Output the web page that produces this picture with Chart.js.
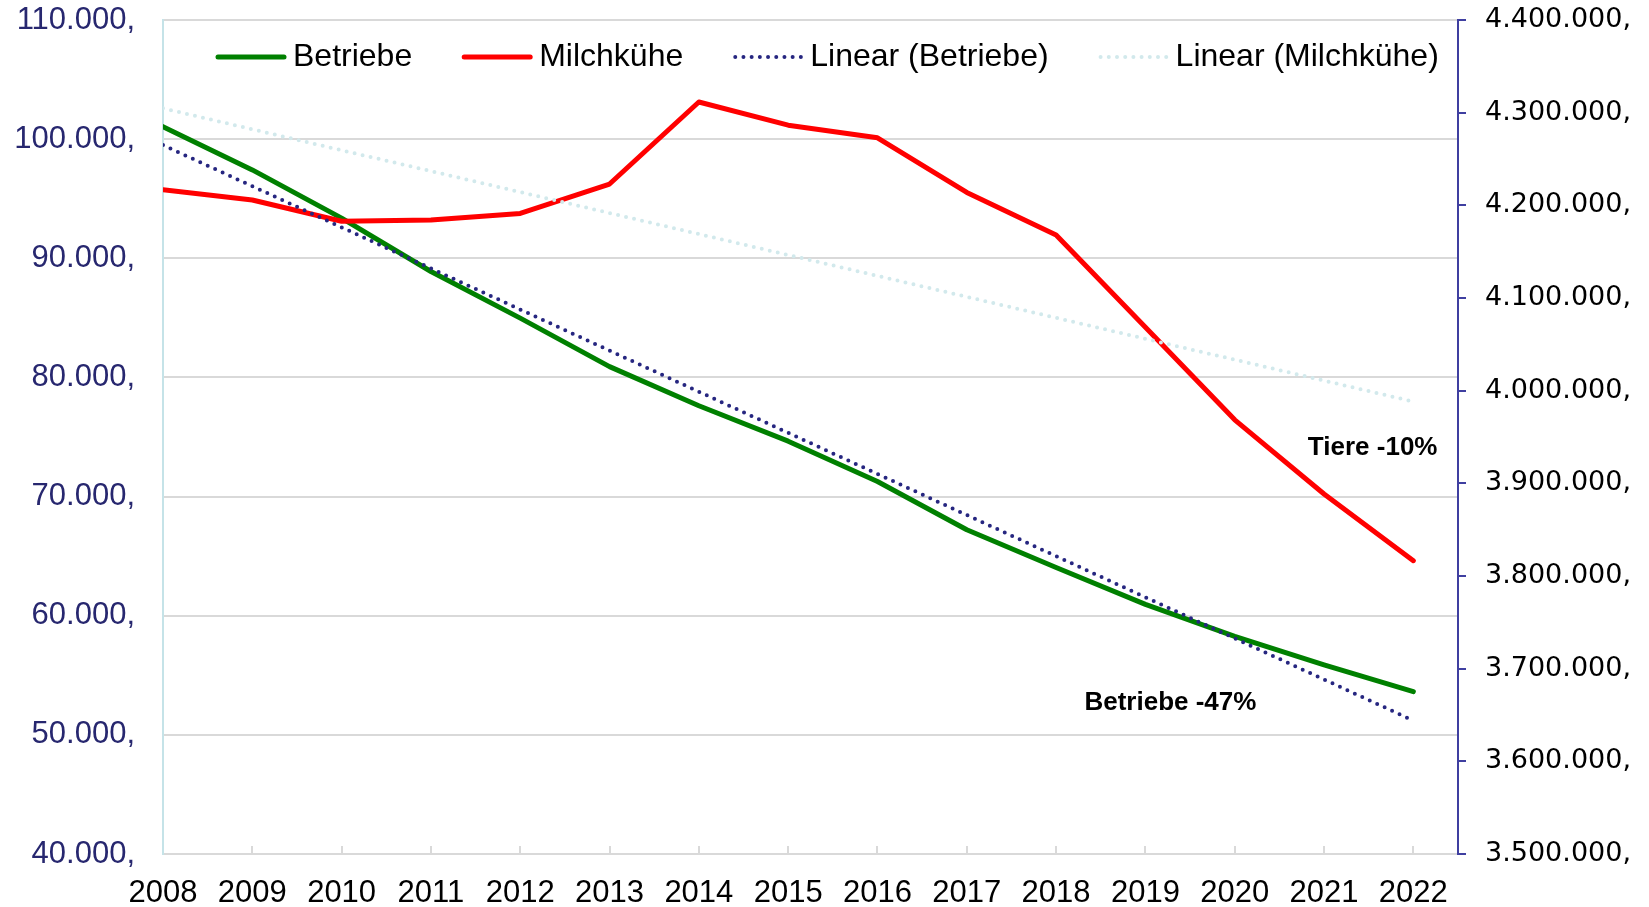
<!DOCTYPE html>
<html>
<head>
<meta charset="utf-8">
<script src="https://cdn.jsdelivr.net/npm/chart.js@4/dist/chart.umd.min.js"></script>
<style>
html,body{margin:0;padding:0;background:#fff;}
#wrap{width:1649px;height:907px;position:relative;}
</style>
</head>
<body>
<div id="wrap"><canvas id="c" width="1649" height="907"></canvas></div>
<script>
// ---- data ----
const years = [2008, 2009, 2010, 2011, 2012, 2013, 2014, 2015, 2016, 2017, 2018, 2019, 2020, 2021, 2022];
const betriebe = [101050, 97420, 93370, 88890, 84980, 80910, 77620, 74650, 71270, 67220, 64050, 60950, 58270, 55870, 53630];
const milchkuehe = [4216900, 4205800, 4182800, 4184200, 4191300, 4223000, 4311500, 4286500, 4272900, 4213900, 4168000, 4068500, 3968500, 3888500, 3816500];
const trendYears = [2008, 2022];
const trendBetriebe = [99500, 51200];
const trendMilchkuehe = [4304700, 3988200];
const seriesLabels = ['Betriebe', 'Milchkühe', 'Linear (Betriebe)', 'Linear (Milchkühe)'];
const annotationTexts = ['Tiere -10%', 'Betriebe -47%'];
const annotationX = [2022.27, 2019.28];
const annotationY = [74100, 52700];
const annotationAlign = ['right', 'center'];

const FONT = '"Liberation Sans", Arial, sans-serif';
const fmt = v => String(Math.round(v)).replace(/\B(?=(\d{3})+(?!\d))/g, '.') + ',';
const pts = (xs, ys) => xs.map((x, i) => ({x: x, y: ys[i]}));

const legendPlugin = {
  id: 'customLegend',
  afterDraw(chart) {
    const ctx = chart.ctx;
    ctx.save();
    ctx.font = '32px ' + FONT;
    ctx.textBaseline = 'middle';
    let x = 218;
    const y = 57;
    chart.data.datasets.forEach(ds => {
      ctx.save();
      ctx.strokeStyle = ds.borderColor;
      ctx.lineWidth = ds.borderWidth;
      ctx.lineCap = ds.borderCapStyle || 'round';
      ctx.setLineDash(ds.borderDash || []);
      ctx.beginPath();
      ctx.moveTo(x, y);
      ctx.lineTo(x + 66, y);
      ctx.stroke();
      ctx.restore();
      ctx.fillStyle = '#000';
      ctx.textAlign = 'left';
      ctx.fillText(ds.label, x + 75, y);
      x += 75 + ctx.measureText(ds.label).width + 52;
    });
    ctx.restore();
  }
};

const annotationPlugin = {
  id: 'annots',
  afterDraw(chart) {
    const ctx = chart.ctx;
    const sx = chart.scales.x, sy = chart.scales.y;
    ctx.save();
    ctx.font = 'bold 26px ' + FONT;
    ctx.fillStyle = '#000';
    ctx.textBaseline = 'middle';
    annotationTexts.forEach((t, i) => {
      ctx.textAlign = annotationAlign[i];
      ctx.fillText(t, sx.getPixelForValue(annotationX[i]), sy.getPixelForValue(annotationY[i]));
    });
    ctx.restore();
  }
};

const bgPlugin = {
  id: 'bg',
  beforeDraw(chart) {
    const ctx = chart.ctx;
    ctx.save();
    ctx.fillStyle = '#fff';
    ctx.fillRect(0, 0, chart.width, chart.height);
    ctx.restore();
  }
};

new Chart(document.getElementById('c'), {
  type: 'line',
  data: {
    datasets: [
      {label: seriesLabels[0], data: pts(years, betriebe), yAxisID: 'y', borderColor: '#008000', borderWidth: 5, borderCapStyle: 'round', borderJoinStyle: 'round', pointRadius: 0, tension: 0, order: 4},
      {label: seriesLabels[1], data: pts(years, milchkuehe), yAxisID: 'y1', borderColor: '#ff0000', borderWidth: 5, borderCapStyle: 'round', borderJoinStyle: 'round', pointRadius: 0, tension: 0, order: 3},
      {label: seriesLabels[2], data: pts(trendYears, trendBetriebe), yAxisID: 'y', borderColor: '#262680', borderWidth: 4, borderDash: [0, 8.2], borderCapStyle: 'round', pointRadius: 0, order: 2},
      {label: seriesLabels[3], data: pts(trendYears, trendMilchkuehe), yAxisID: 'y1', borderColor: '#d2e9ec', borderWidth: 4, borderDash: [0, 8.2], borderCapStyle: 'round', pointRadius: 0, order: 1}
    ]
  },
  options: {
    responsive: false,
    animation: false,
    devicePixelRatio: 1,
    layout: {padding: {top: 20, left: 0, right: 0, bottom: 0}},
    plugins: {legend: {display: false}, tooltip: {enabled: false}},
    scales: {
      x: {
        type: 'linear', min: 2008, max: 2022.5,
        afterBuildTicks: s => { s.ticks = years.map(v => ({value: v})); },
        ticks: {callback: v => String(v), color: '#000', font: {family: FONT, size: 31}, padding: 29, maxRotation: 0, autoSkip: false},
        grid: {drawOnChartArea: false, drawTicks: true, tickLength: -8, color: '#d9d9d9', lineWidth: 2},
        border: {color: '#d9d9d9', width: 2},
        afterFit: s => { s.height = 53; s.paddingLeft = 0; s.paddingRight = 0; }
      },
      y: {
        position: 'left', min: 40000, max: 110000,
        ticks: {stepSize: 10000, callback: fmt, color: '#27276f', font: {family: FONT, size: 31}, padding: 28},
        grid: {color: '#d9d9d9', lineWidth: 2, drawTicks: false},
        border: {color: '#c5e3e8', width: 2},
        afterFit: s => { s.width = 163; s.paddingTop = 0; s.paddingBottom = 0; }
      },
      y1: {
        position: 'right', min: 3500000, max: 4400000,
        ticks: {stepSize: 100000, callback: fmt, color: '#000', font: {family: '"DejaVu Sans", sans-serif', size: 27}, padding: 19},
        grid: {drawOnChartArea: false, drawTicks: true, tickLength: 8, color: '#3f3fa0', lineWidth: 2},
        border: {color: '#3f3fa0', width: 2},
        afterFit: s => { s.width = 191; s.paddingTop = 0; s.paddingBottom = 0; }
      }
    }
  },
  plugins: [bgPlugin, legendPlugin, annotationPlugin]
});
</script>
</body>
</html>
